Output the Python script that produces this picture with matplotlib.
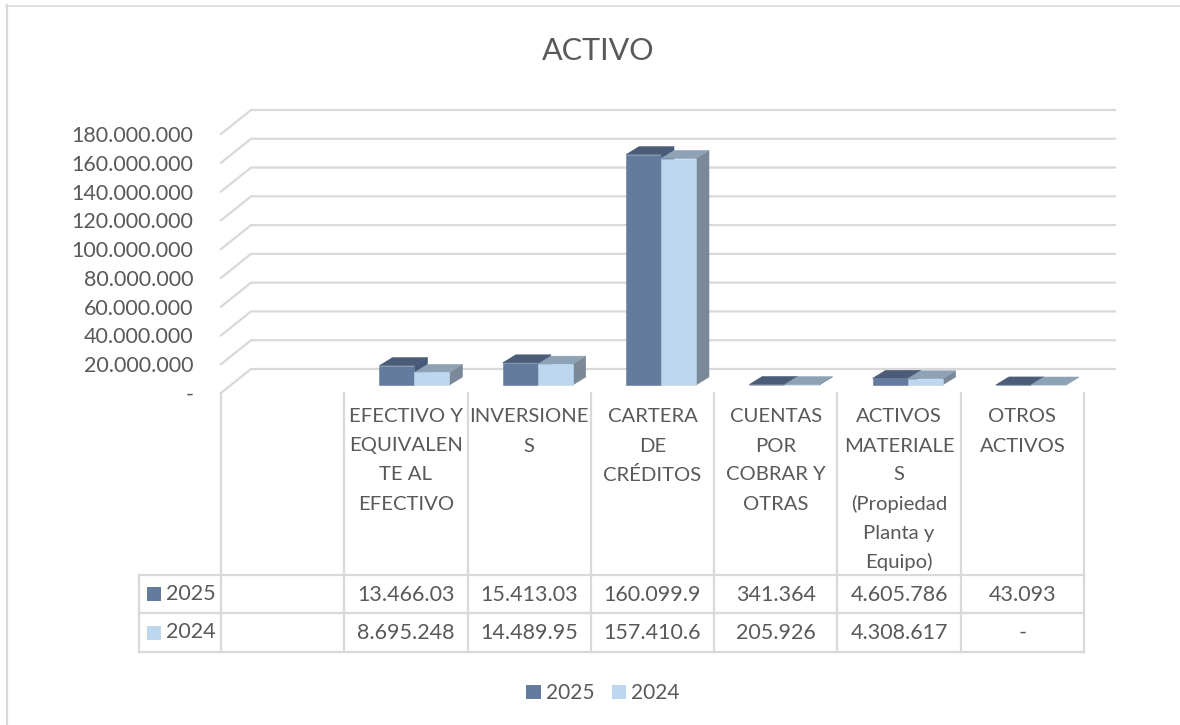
import matplotlib
matplotlib.use('Agg')
import matplotlib.pyplot as plt
from matplotlib.patches import Patch, Polygon
from matplotlib.transforms import Affine2D, IdentityTransform

plt.rcParams['font.family'] = ['Lato', 'DejaVu Sans']

title = 'ACTIVO'
series_names = ['2025', '2024']
categories = ['', 'EFECTIVO Y\nEQUIVALEN\nTE AL\nEFECTIVO', 'INVERSIONE\nS', 'CARTERA\nDE\nCRÉDITOS',
              'CUENTAS\nPOR\nCOBRAR Y\nOTRAS', 'ACTIVOS\nMATERIALE\nS\n(Propiedad\nPlanta y\nEquipo)', 'OTROS\nACTIVOS']
values_2025 = [None, 13466030, 15413030, 160099900, 341364, 4605786, 43093]
values_2024 = [None, 8695248, 14489950, 157410600, 205926, 4308617, 0]
labels_2025 = ['', '13.466.03', '15.413.03', '160.099.9', '341.364', '4.605.786', '43.093']
labels_2024 = ['', '8.695.248', '14.489.95', '157.410.6', '205.926', '4.308.617', '-']
y_ticks = [0, 20000000, 40000000, 60000000, 80000000, 100000000, 120000000, 140000000, 160000000, 180000000]

TEXT = '#595959'
GRID = '#d9d9d9'
FONT = 15.5
CAT_FONT = 14.6
# front, top, side of each series
COLORS = [('#637b9c', '#4a5c78', '#45587a'), ('#bdd7ee', '#8ea2b5', '#7a8897')]

W, H = 1180, 725
fig = plt.figure(figsize=(W / 100, H / 100), dpi=100)
ax = fig.add_axes([221 / W, 1 - 393 / H, 863 / W, 259 / H])
ax.set_xlim(0, len(categories))
ax.set_ylim(0, 180000000)
ax.set_xticks([])
ax.set_yticks(y_ticks)
ax.set_yticklabels(['-' if v == 0 else f'{v:,}'.replace(',', '.') for v in y_ticks], fontsize=FONT, color=TEXT)
ax.tick_params(axis='y', length=0, pad=20)
ax.patch.set_visible(False)
for s in ax.spines.values():
    s.set_visible(False)

# picture pixels (y downwards) to display
px = Affine2D().scale(1, -1).translate(0, H)


def pt(x, v, dx, dy):
    """ data position moved by a depth offset given in pixels """
    a, b = ax.transData.transform((x, v))
    return (a + dx, b + dy)


def line(xs, ys, lw=1.6, zorder=1):
    fig.add_artist(plt.Line2D(xs, ys, color=GRID, lw=lw, transform=px, zorder=zorder))


def face(points, color, zorder):
    ax.add_patch(Polygon(points, closed=True, facecolor=color, edgecolor=color, lw=0.4,
                         transform=IdentityTransform(), clip_on=False, zorder=zorder))


# walls
for v in y_ticks:
    x0, y0 = pt(0, v, 0, 0)
    x1, y1 = pt(0, v, 30, 24)
    x2, y2 = pt(len(categories), v, 31, 24)
    ax.plot([x0, x1, x2], [y0, y1, y2], color=GRID, lw=1.6, transform=IdentityTransform(),
            clip_on=False, zorder=1)

# 3d bars
width = 35 / (863 / 7)
base_dx, base_dy = 8.5, 8
depth_dx, depth_dy = 13, 8
for s, vals in enumerate([values_2025, values_2024]):
    front, top, side = COLORS[s]
    for i, v in enumerate(vals):
        if v is None:
            continue
        left = i + 0.5 - width + s * width
        right = left + width
        a = pt(left, 0, base_dx, base_dy)
        b = pt(right, 0, base_dx, base_dy)
        c = pt(right, v, base_dx, base_dy)
        d = pt(left, v, base_dx, base_dy)
        mv = lambda q: (q[0] + depth_dx, q[1] + depth_dy)
        face([b, mv(b), mv(c), c], side, 3 + s)
        face([d, c, mv(c), mv(d)], top, 3 + s)
        face([a, b, c, d], front, 3 + s)

# data table
col_x = [221 + 863 / 7 * i for i in range(8)]
row_y = [575, 613, 652]
line([221, 221], [393, row_y[-1]])
for x in col_x[1:]:
    line([x, x], [393, row_y[-1]])
line([139, 139], [row_y[0], row_y[-1]])
for y in row_y:
    line([139, col_x[-1]], [y, y])

for i, name in enumerate(categories):
    xc = (col_x[i] + col_x[i + 1]) / 2
    for j, part in enumerate(name.split('\n')):
        fig.text(xc, 417 + 29 * j, part, transform=px, ha='center', va='center', fontsize=CAT_FONT, color=TEXT)
    fig.text(xc, 595, labels_2025[i], transform=px, ha='center', va='center', fontsize=FONT, color=TEXT)
    fig.text(xc, 633, labels_2024[i], transform=px, ha='center', va='center', fontsize=FONT, color=TEXT)

for r, name in enumerate(series_names):
    yc = (row_y[r] + row_y[r + 1]) / 2
    fig.add_artist(plt.Rectangle((147, yc - 7), 14, 14, facecolor=COLORS[r][0], transform=px))
    fig.text(166, yc, name, transform=px, ha='left', va='center', fontsize=FONT, color=TEXT)

# chart frame and title
line([7, 7], [5, 725], lw=1.6)
line([6, 1180], [5.5, 5.5], lw=1.2)
fig.text(598, 51, title, transform=px, ha='center', va='center', fontsize=22, color=TEXT)

handles = [Patch(facecolor=COLORS[i][0], label=series_names[i]) for i in range(2)]
fig.legend(handles=handles, loc='center', bbox_to_anchor=(603 / W, 1 - 693 / H), ncol=2, frameon=False,
           fontsize=15, labelcolor=TEXT, handlelength=0.68, handleheight=0.68, handletextpad=0.24,
           columnspacing=0.85)

fig.savefig('out.png', dpi=100)
